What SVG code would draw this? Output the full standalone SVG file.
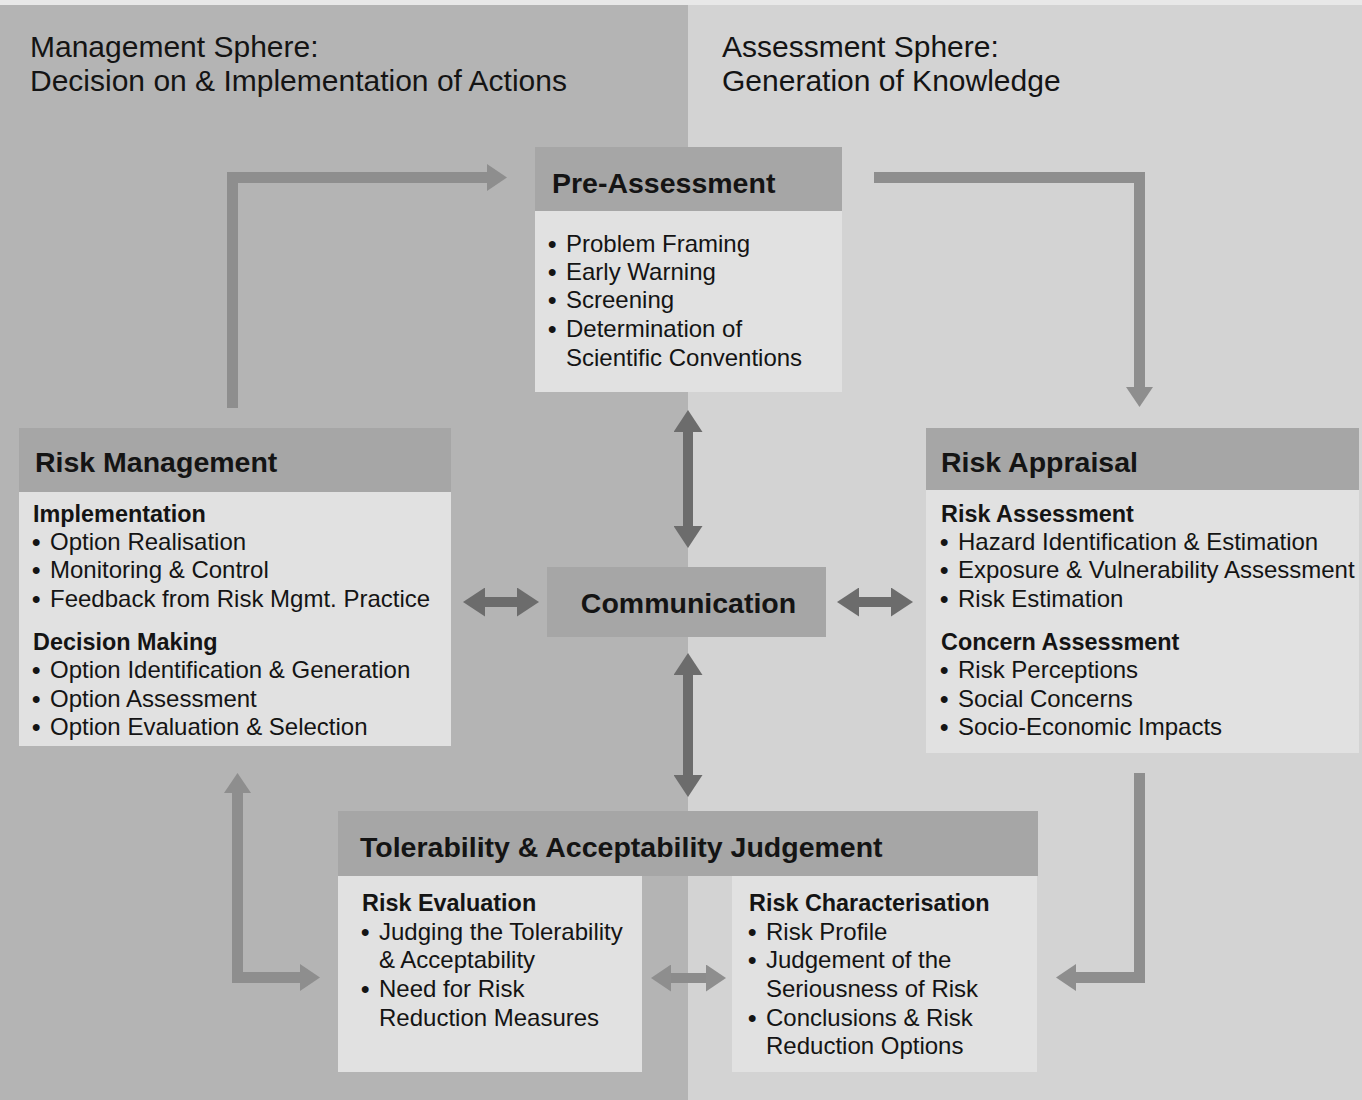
<svg xmlns="http://www.w3.org/2000/svg" width="1362" height="1100" viewBox="0 0 1362 1100">
<style>
text{font-family:"Liberation Sans",Arial,sans-serif;fill:#141414}
.sphere{font-size:30px}
.title{font-size:28.5px;font-weight:bold}
.sub{font-size:23.4px;font-weight:bold}
.item{font-size:24px}
.bul{font-size:24px;font-weight:bold}
.head{fill:#a6a6a6}
.body{fill:#e1e1e1}
.flow{fill:none;stroke:#8e8e8e;stroke-width:11;stroke-linejoin:miter}
.flow2{fill:none;stroke:#8c8c8c;stroke-width:10}
.comm{fill:none;stroke:#6c6c6c;stroke-width:10}
</style>
<defs>
<marker id="hf" markerUnits="userSpaceOnUse" markerWidth="20" markerHeight="27" refX="0" refY="13.5" orient="auto-start-reverse" viewBox="0 0 20 27"><path d="M0,0 L20,13.5 L0,27 Z" fill="#8e8e8e"/></marker>
<marker id="hc" markerUnits="userSpaceOnUse" markerWidth="22" markerHeight="29" refX="0" refY="14.5" orient="auto-start-reverse" viewBox="0 0 22 29"><path d="M0,0 L22,14.5 L0,29 Z" fill="#6c6c6c"/></marker>
</defs>
<rect x="0" y="0" width="1362" height="1100" fill="#e8e8e8"/>
<rect x="0" y="5" width="688" height="1095" fill="#b4b4b4"/>
<rect x="688" y="5" width="674" height="1095" fill="#d3d3d3"/>
<g id="sphere-management">
<text class="sphere" x="30" y="57">Management Sphere:</text>
<text class="sphere" x="30" y="91">Decision on &amp; Implementation of Actions</text>
</g>
<g id="sphere-assessment">
<text class="sphere" x="722" y="57">Assessment Sphere:</text>
<text class="sphere" x="722" y="91">Generation of Knowledge</text>
</g>
<g id="connectors">
<path class="flow" d="M232.5,408 V177.5 H487" marker-end="url(#hf)"/>
<path class="flow" d="M874,177.5 H1139.5 V387" marker-end="url(#hf)"/>
<path class="flow" d="M237.5,793 V977.5 H300" marker-start="url(#hf)" marker-end="url(#hf)"/>
<path class="flow" d="M1139.5,773 V977.5 H1076" marker-end="url(#hf)"/>
<path class="flow2" d="M671,978 H706" marker-start="url(#hf)" marker-end="url(#hf)"/>
<path class="comm" d="M688,432 V526" marker-start="url(#hc)" marker-end="url(#hc)"/>
<path class="comm" d="M688,675 V775" marker-start="url(#hc)" marker-end="url(#hc)"/>
<path class="comm" d="M485,602 H517" marker-start="url(#hc)" marker-end="url(#hc)"/>
<path class="comm" d="M859,602 H891" marker-start="url(#hc)" marker-end="url(#hc)"/>
</g>
<g id="pre-assessment">
<rect class="head" x="535" y="147" width="307" height="64"/>
<rect class="body" x="535" y="211" width="307" height="181"/>
<text class="title" x="552" y="193">Pre-Assessment</text>
<text class="bul" x="548" y="252">•</text><text class="item" x="566" y="252">Problem Framing</text>
<text class="bul" x="548" y="280">•</text><text class="item" x="566" y="280">Early Warning</text>
<text class="bul" x="548" y="308">•</text><text class="item" x="566" y="308">Screening</text>
<text class="bul" x="548" y="337">•</text><text class="item" x="566" y="337">Determination of</text>
<text class="item" x="566" y="366">Scientific Conventions</text>
</g>
<g id="risk-management">
<rect class="head" x="19" y="428" width="432" height="64"/>
<rect class="body" x="19" y="492" width="432" height="254"/>
<text class="title" x="35" y="472">Risk Management</text>
<text class="sub" x="33" y="522">Implementation</text>
<text class="bul" x="32" y="550">•</text><text class="item" x="50" y="550">Option Realisation</text>
<text class="bul" x="32" y="578">•</text><text class="item" x="50" y="578">Monitoring &amp; Control</text>
<text class="bul" x="32" y="607">•</text><text class="item" x="50" y="607">Feedback from Risk Mgmt. Practice</text>
<text class="sub" x="33" y="650">Decision Making</text>
<text class="bul" x="32" y="678">•</text><text class="item" x="50" y="678">Option Identification &amp; Generation</text>
<text class="bul" x="32" y="707">•</text><text class="item" x="50" y="707">Option Assessment</text>
<text class="bul" x="32" y="735">•</text><text class="item" x="50" y="735">Option Evaluation &amp; Selection</text>
</g>
<g id="risk-appraisal">
<rect class="head" x="926" y="428" width="433" height="62"/>
<rect class="body" x="926" y="490" width="433" height="263"/>
<text class="title" x="941" y="472">Risk Appraisal</text>
<text class="sub" x="941" y="522">Risk Assessment</text>
<text class="bul" x="940" y="550">•</text><text class="item" x="958" y="550">Hazard Identification &amp; Estimation</text>
<text class="bul" x="940" y="578">•</text><text class="item" x="958" y="578">Exposure &amp; Vulnerability Assessment</text>
<text class="bul" x="940" y="607">•</text><text class="item" x="958" y="607">Risk Estimation</text>
<text class="sub" x="941" y="650">Concern Assessment</text>
<text class="bul" x="940" y="678">•</text><text class="item" x="958" y="678">Risk Perceptions</text>
<text class="bul" x="940" y="707">•</text><text class="item" x="958" y="707">Social Concerns</text>
<text class="bul" x="940" y="735">•</text><text class="item" x="958" y="735">Socio-Economic Impacts</text>
</g>
<g id="communication">
<rect class="head" x="547" y="567" width="279" height="70"/>
<text class="title" x="688.5" y="613" text-anchor="middle">Communication</text>
</g>
<g id="tolerability-judgement">
<rect class="head" x="338" y="811" width="700" height="65"/>
<text class="title" x="360" y="857">Tolerability &amp; Acceptability Judgement</text>
<g id="risk-evaluation">
<rect class="body" x="338" y="876" width="304" height="196"/>
<text class="sub" x="362" y="911">Risk Evaluation</text>
<text class="bul" x="361" y="940">•</text><text class="item" x="379" y="940">Judging the Tolerability</text>
<text class="item" x="379" y="968">&amp; Acceptability</text>
<text class="bul" x="361" y="997">•</text><text class="item" x="379" y="997">Need for Risk</text>
<text class="item" x="379" y="1026">Reduction Measures</text>
</g>
<g id="risk-characterisation">
<rect class="body" x="732" y="876" width="305" height="196"/>
<text class="sub" x="749" y="911">Risk Characterisation</text>
<text class="bul" x="748" y="940">•</text><text class="item" x="766" y="940">Risk Profile</text>
<text class="bul" x="748" y="968">•</text><text class="item" x="766" y="968">Judgement of the</text>
<text class="item" x="766" y="997">Seriousness of Risk</text>
<text class="bul" x="748" y="1026">•</text><text class="item" x="766" y="1026">Conclusions &amp; Risk</text>
<text class="item" x="766" y="1054">Reduction Options</text>
</g>
</g>
</svg>
